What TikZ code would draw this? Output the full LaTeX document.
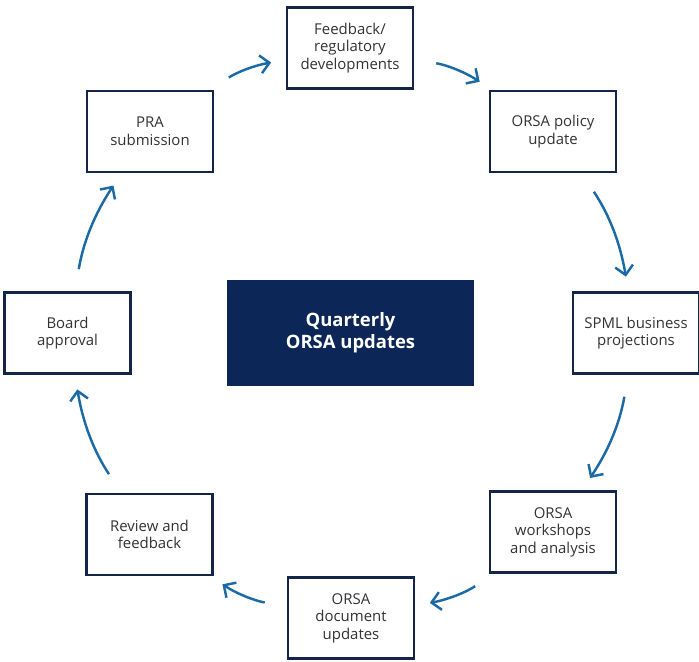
\documentclass[tikz,border=0pt]{standalone}
\usepackage{fontspec}
\setmainfont{Open Sans}
\usetikzlibrary{arrows.meta}
\definecolor{navy}{HTML}{0C2757}
\definecolor{boxline}{HTML}{14254A}
\definecolor{flowblue}{HTML}{1B6AA6}
\definecolor{txtgray}{HTML}{333333}
\begin{document}
\begin{tikzpicture}[
    stage/.style={draw=boxline, line width=1.2pt, fill=white, minimum width=2.52cm,
                  minimum height=1.62cm, align=center, inner sep=1pt,
                  font=\fontsize{8.5}{10}\selectfont, text=txtgray},
    hub/.style={fill=navy, minimum width=4.94cm, minimum height=2.12cm, align=center,
                font=\fontsize{10.5}{12.5}\selectfont\bfseries, text=white},
    flow/.style={draw=flowblue, line width=1.4pt, bend left=12,
                 shorten <=0.45cm, shorten >=0.3cm,
                 -{Straight Barb[length=1.8mm,width=3.6mm]}}
]
    % Canvas size
    \useasboundingbox (0,0) rectangle (13.98,13.22);

    % Central box
    \node[hub] (hub) at (7.01,6.56) {Quarterly\\ORSA updates};

    % Stages of the cycle (placed on a circle round the central box)
    \node[stage] (feedback) at (7.00,12.26) {Feedback/\\regulatory\\developments};
    \node[stage] (policy)   at (11.06,10.59) {ORSA policy\\update};
    \node[stage] (spml)     at (12.72,6.56) {SPML business\\projections};
    \node[stage] (workshop) at (11.06,2.58) {ORSA\\workshops\\and analysis};
    \node[stage] (document) at (7.02,0.86) {ORSA\\document\\updates};
    \node[stage] (review)   at (2.99,2.53) {Review and\\feedback};
    \node[stage] (board)    at (1.35,6.56) {Board\\approval};
    \node[stage] (pra)      at (3.00,10.59) {PRA\\submission};

    % Arrows of the cycle, clockwise
    \draw[flow] (pra) to (feedback);
    \draw[flow] (feedback) to (policy);
    \draw[flow] (policy) to (spml);
    \draw[flow] (spml) to (workshop);
    \draw[flow] (workshop) to (document);
    \draw[flow] (document) to (review);
    \draw[flow] (review) to (board);
    \draw[flow] (board) to (pra);

\end{tikzpicture}
\end{document}
